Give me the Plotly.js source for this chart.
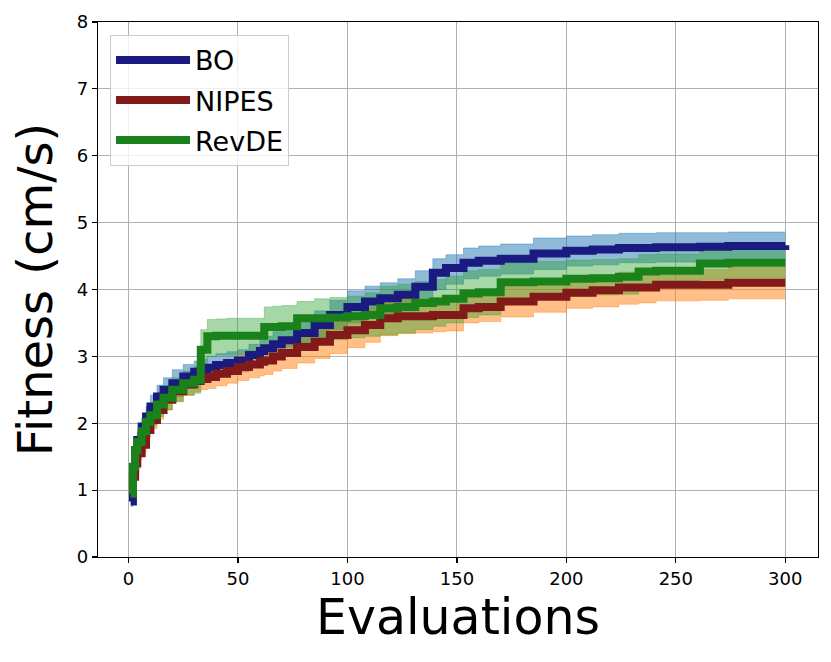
<!DOCTYPE html>
<html>
<head>
<meta charset="utf-8">
<script src="https://cdn.plot.ly/plotly-3.0.1.min.js"></script>
<style>
  html, body { margin: 0; padding: 0; background: #fff; }
  #plot { width: 831px; height: 662px; }
</style>
</head>
<body>
<div id="plot"></div>
<script>
// evaluation number at which each reading was taken
var evals = [1,2,3,4,6,8,10,13,16,20,25,30,33,36,40,45,50,55,60,62,66,70,77,85,92,100,
             108,115,123,131,139,145,153,160,170,185,200,212,224,233,241,261,274,300];

// BO: mean and band
var boMean  = [0.83,1.3,1.6,1.75,1.95,2.1,2.25,2.4,2.5,2.6,2.7,2.77,2.8,2.83,2.87,2.9,2.94,3.02,3.08,3.12,3.18,3.24,3.35,3.47,3.62,3.74,
               3.82,3.87,3.92,4.04,4.25,4.32,4.4,4.43,4.46,4.54,4.58,4.6,4.62,4.62,4.63,4.64,4.65,4.66];
var boUpper = [0.9,1.4,1.7,1.87,2.08,2.25,2.42,2.57,2.68,2.8,2.88,2.93,2.96,3.0,3.04,3.07,3.1,3.18,3.26,3.3,3.37,3.44,3.55,3.68,3.84,3.98,
               4.05,4.1,4.16,4.28,4.46,4.52,4.62,4.65,4.68,4.77,4.8,4.82,4.84,4.84,4.85,4.85,4.86,4.86];
var boLower = [0.76,1.2,1.5,1.63,1.82,1.95,2.08,2.23,2.32,2.4,2.52,2.6,2.64,2.66,2.7,2.73,2.77,2.84,2.9,2.93,2.99,3.04,3.14,3.26,3.4,3.5,
               3.58,3.63,3.68,3.8,4.0,4.08,4.16,4.2,4.23,4.3,4.35,4.37,4.4,4.4,4.41,4.43,4.44,4.46];

// NIPES
var nipesMean  = [0.95,1.2,1.4,1.55,1.68,1.9,2.05,2.2,2.35,2.48,2.58,2.63,2.66,2.69,2.74,2.78,2.84,2.88,2.92,2.94,3.0,3.05,3.14,3.22,3.32,3.39,
                  3.47,3.57,3.6,3.6,3.62,3.62,3.72,3.74,3.82,3.89,3.95,3.99,4.03,4.03,4.07,4.07,4.1,4.1];
var nipesUpper = [1.0,1.28,1.48,1.63,1.78,2.0,2.16,2.32,2.48,2.62,2.73,2.8,2.83,2.86,2.92,2.96,3.03,3.08,3.13,3.15,3.22,3.28,3.38,3.47,3.58,3.65,
                  3.73,3.83,3.86,3.86,3.88,3.88,3.97,3.98,4.05,4.12,4.18,4.22,4.26,4.26,4.3,4.3,4.33,4.33];
var nipesLower = [0.88,1.12,1.3,1.45,1.56,1.78,1.92,2.06,2.2,2.33,2.42,2.47,2.5,2.52,2.56,2.6,2.64,2.68,2.71,2.73,2.78,2.82,2.9,2.97,3.04,3.13,
                  3.21,3.31,3.34,3.35,3.37,3.38,3.5,3.52,3.59,3.66,3.72,3.74,3.78,3.8,3.83,3.84,3.86,3.87];

// RevDE
var revdeMean  = [0.95,1.35,1.6,1.72,1.88,2.02,2.12,2.28,2.38,2.5,2.6,2.65,3.1,3.3,3.31,3.31,3.31,3.31,3.31,3.44,3.44,3.45,3.57,3.57,3.58,3.6,
                  3.62,3.72,3.74,3.8,3.82,3.86,3.94,3.96,4.11,4.12,4.16,4.17,4.19,4.27,4.28,4.39,4.4,4.4];
var revdeUpper = [1.02,1.45,1.7,1.83,2.0,2.16,2.28,2.45,2.56,2.68,2.78,2.85,3.4,3.55,3.56,3.57,3.57,3.57,3.57,3.74,3.75,3.76,3.82,3.86,3.88,3.9,
                  3.95,4.05,4.08,4.12,4.15,4.2,4.28,4.3,4.4,4.42,4.44,4.45,4.46,4.52,4.53,4.6,4.6,4.6];
var revdeLower = [0.88,1.25,1.5,1.6,1.75,1.88,1.97,2.1,2.2,2.32,2.42,2.45,2.8,3.0,3.02,3.02,3.03,3.04,3.05,3.12,3.13,3.14,3.2,3.22,3.25,3.28,
                  3.3,3.32,3.35,3.4,3.45,3.5,3.58,3.62,3.8,3.85,3.9,3.92,3.93,4.05,4.07,4.15,4.17,4.18];

var names = ['BO', 'NIPES', 'RevDE'];

function band(lo, hi, col){
  return [
    {x: evals, y: lo, mode: 'lines', line: {width: 0.8, color: col, shape: 'hv'},
     showlegend: false, hoverinfo: 'skip'},
    {x: evals, y: hi, mode: 'lines', line: {width: 0.8, color: col, shape: 'hv'},
     fill: 'tonexty', fillcolor: col, showlegend: false, hoverinfo: 'skip'}
  ];
}

function meanLine(y, name, col){
  return {x: evals, y: y, name: name, mode: 'lines', legendgroup: name,
          line: {width: 8, color: col, shape: 'hv'}};
}

var data = [].concat(
  band(boLower, boUpper, 'rgba(31,119,180,0.5)'),
  band(nipesLower, nipesUpper, 'rgba(255,127,14,0.5)'),
  band(revdeLower, revdeUpper, 'rgba(44,160,44,0.42)'),
  [meanLine(boMean, names[0], '#1a1a80'),
   meanLine(nipesMean, names[1], '#831a1a'),
   meanLine(revdeMean, names[2], '#1a821a')]
);

var axisFont = {family: 'DejaVu Sans', size: 18, color: '#000'};

var layout = {
  width: 831, height: 662,
  margin: {l: 98, r: 13, t: 22, b: 105},
  paper_bgcolor: '#fff', plot_bgcolor: '#fff',
  font: {family: 'DejaVu Sans', color: '#000'},
  showlegend: true,
  xaxis: {
    range: [-13.95, 314.95], tickvals: [0,50,100,150,200,250,300],
    showgrid: true, gridcolor: '#b0b0b0', gridwidth: 1,
    zeroline: false, showline: true, linecolor: '#000', linewidth: 1.3, mirror: true,
    ticks: 'outside', ticklen: 5, tickwidth: 1.2, tickcolor: '#000',
    tickfont: axisFont,
    title: {text: 'Evaluations', font: {family: 'DejaVu Sans', size: 49, color: '#000'}, standoff: 6}
  },
  yaxis: {
    range: [0, 8], tickvals: [0,1,2,3,4,5,6,7,8],
    showgrid: true, gridcolor: '#b0b0b0', gridwidth: 1,
    zeroline: false, showline: true, linecolor: '#000', linewidth: 1.3, mirror: true,
    ticks: 'outside', ticklen: 5, tickwidth: 1.2, tickcolor: '#000',
    tickfont: axisFont,
    title: {text: 'Fitness (cm/s)', font: {family: 'DejaVu Sans', size: 48, color: '#000'}, standoff: 8}
  },
  legend: {
    x: 0.0167, y: 0.976, xanchor: 'left', yanchor: 'top',
    bgcolor: 'rgba(255,255,255,0.8)', bordercolor: '#cccccc', borderwidth: 1,
    font: {family: 'DejaVu Sans', size: 27, color: '#000'},
    itemwidth: 74,
    tracegroupgap: 2
  }
};

Plotly.newPlot('plot', data, layout, {displayModeBar: false, staticPlot: true});
</script>
</body>
</html>
